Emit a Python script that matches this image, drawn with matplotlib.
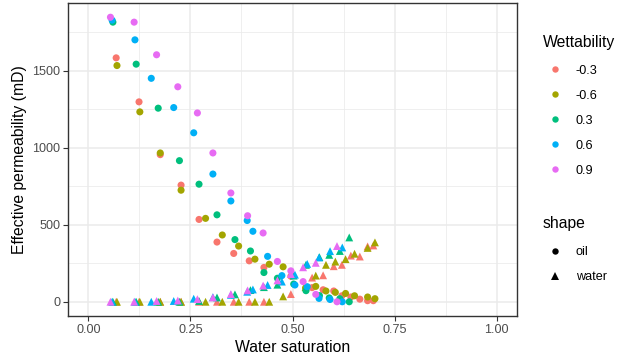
import matplotlib
matplotlib.use("Agg")
import matplotlib.pyplot as plt
from matplotlib.lines import Line2D

plt.rcParams['font.family'] = ['Liberation Sans', 'DejaVu Sans']

# ---- data ----
wettability = ["-0.3", "-0.6", "0.3", "0.6", "0.9"]
colors = ["#F8766D", "#A3A500", "#00BF7D", "#00B0F6", "#E76BF3"]

sw_m03 = [0.068, 0.124, 0.176, 0.227, 0.271, 0.315, 0.356, 0.394, 0.430, 0.496, 0.548, 0.575, 0.601, 0.621, 0.643, 0.665, 0.684, 0.698]
oil_m03 = [1585, 1299, 956, 758, 535, 388, 314, 266, 223, 166, 92, 78, 70, 39, 31, 17, 7, 7]
wat_m03 = [0, 0, 0, 0, 0, 0, 0, 0, 0, 50, 157, 172, 231, 240, 300, 294, 360, 366]

sw_m06 = [0.070, 0.126, 0.176, 0.227, 0.287, 0.328, 0.368, 0.408, 0.443, 0.477, 0.532, 0.557, 0.582, 0.605, 0.630, 0.652, 0.684, 0.702]
oil_m06 = [1535, 1234, 967, 725, 542, 434, 362, 277, 244, 227, 90, 100, 70, 61, 54, 39, 31, 20]
wat_m06 = [0, 0, 0, 0, 0, 0, 0, 0, 0, 35, 95, 170, 240, 261, 277, 312, 350, 386]

sw_p03 = [0.060, 0.117, 0.171, 0.223, 0.271, 0.315, 0.359, 0.397, 0.430, 0.463, 0.503, 0.533, 0.566, 0.590, 0.616, 0.639]
oil_p03 = [1817, 1544, 1258, 917, 764, 565, 404, 330, 190, 153, 115, 72, 40, 25, 20, 0]
wat_p03 = [0, 0, 0, 0, 5, 28, 48, 76, 95, 111, 170, 240, 290, 305, 330, 418]

sw_p06 = [0.058, 0.114, 0.154, 0.209, 0.258, 0.305, 0.349, 0.389, 0.403, 0.439, 0.474, 0.506, 0.536, 0.565, 0.592, 0.622]
oil_p06 = [1830, 1702, 1452, 1262, 1098, 830, 655, 528, 458, 295, 170, 109, 98, 22, 15, 0]
wat_p06 = [0, 0, 0, 5, 20, 30, 45, 65, 80, 109, 131, 176, 246, 288, 329, 353]

sw_p09 = [0.054, 0.112, 0.167, 0.219, 0.267, 0.305, 0.349, 0.390, 0.428, 0.463, 0.496, 0.526, 0.557, 0.609]
oil_p09 = [1849, 1817, 1605, 1397, 1227, 967, 707, 559, 447, 262, 201, 131, 48, 0]
wat_p09 = [0, 0, 5, 8, 17, 28, 50, 74, 105, 139, 180, 224, 253, 362]

series = [
    (sw_m03, oil_m03, wat_m03),
    (sw_m06, oil_m06, wat_m06),
    (sw_p03, oil_p03, wat_p03),
    (sw_p06, oil_p06, wat_p06),
    (sw_p09, oil_p09, wat_p09),
]
x_ticks = [0.00, 0.25, 0.50, 0.75, 1.00]
x_ticklabels = ["0.00", "0.25", "0.50", "0.75", "1.00"]
y_ticks = [0, 500, 1000, 1500]
shape_labels = ["oil", "water"]
shape_markers = ["o", "^"]

# ---- figure ----
W, H = 620, 358
fig = plt.figure(figsize=(W/100, H/100), dpi=100)
ax = fig.add_axes([68/W, 1-316/H, (517-68)/W, (316-3)/H])

for (sw, oil, wat), c in zip(series, colors):
    ax.scatter(sw, oil, s=26, marker='o', color=c, edgecolors='none', zorder=3)
    ax.scatter(sw, wat, s=32, marker='^', color=c, edgecolors='none', zorder=3)

ymax_data = max(max(o) for _, o, _ in series)
ax.set_xlim(-0.05, 1.05)
ax.set_ylim(-0.05*ymax_data, 1.05*ymax_data)

ax.set_xticks(x_ticks)
ax.set_xticklabels(x_ticklabels)
ax.set_yticks(y_ticks)
ax.set_xticks([0.125, 0.375, 0.625, 0.875], minor=True)
ax.set_yticks([250, 750, 1250, 1750], minor=True)

ax.grid(which='major', color='#EBEBEB', linewidth=1.1, zorder=0)
ax.grid(which='minor', color='#EBEBEB', linewidth=0.55, zorder=0)
ax.set_axisbelow(True)
for sp in ax.spines.values():
    sp.set_color('#333333')
    sp.set_linewidth(1.0)
ax.tick_params(which='major', direction='out', length=3.5, width=0.8, color='#333333',
               labelsize=9.1, labelcolor='#4D4D4D', pad=2)
ax.tick_params(which='minor', length=0)

ax.set_xlabel("Water saturation", fontsize=11.3, labelpad=3)
ax.set_ylabel("Effective permeability (mD)", fontsize=11.3, labelpad=4)

# ---- legends (ggplot-style, placed in figure pixels) ----
def fx(px):
    return px / W

def fy(py):
    return 1 - py / H

title_x, key_x, label_x = 543, 555, 576
fig.text(fx(title_x), fy(47), "Wettability", fontsize=11.3, ha='left', va='baseline')
for i, (lab, c) in enumerate(zip(wettability, colors)):
    yy = 69.3 + 25 * i
    fig.add_artist(Line2D([fx(key_x)], [fy(yy)], marker='o', linestyle='none', color=c,
                          markersize=4.6, markeredgewidth=0, transform=fig.transFigure))
    fig.text(fx(label_x), fy(yy), lab, fontsize=9.1, ha='left', va='center_baseline')

fig.text(fx(title_x), fy(228), "shape", fontsize=11.3, ha='left', va='baseline')
for i, (lab, m) in enumerate(zip(shape_labels, shape_markers)):
    yy = 250.5 + 25 * i
    fig.add_artist(Line2D([fx(key_x)], [fy(yy)], marker=m, linestyle='none', color='black',
                          markersize=4.6 if m == 'o' else 5.2, markeredgewidth=0,
                          transform=fig.transFigure))
    fig.text(fx(label_x), fy(yy), lab, fontsize=9.1, ha='left', va='center_baseline')

fig.savefig("out.png", dpi=100)
